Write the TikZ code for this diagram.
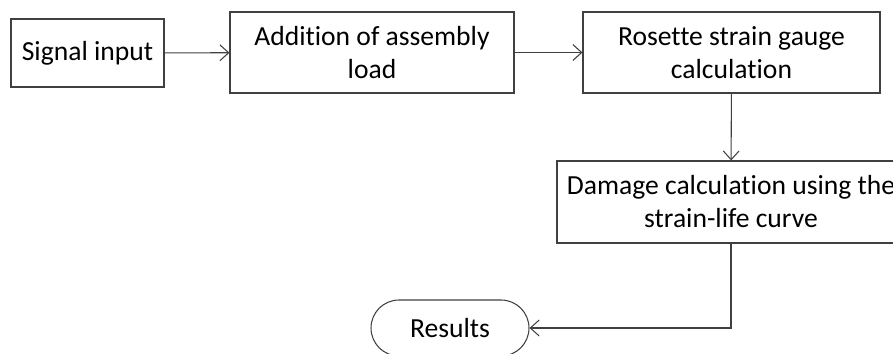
\documentclass[tikz,border=0pt]{standalone}
\usepackage{fontspec}
\setmainfont[Ligatures=NoCommon]{Carlito}
\usetikzlibrary{arrows.meta,positioning,calc,shapes.misc}
\definecolor{ink}{HTML}{000000}
\definecolor{edge}{HTML}{404040}
\begin{document}
\begin{tikzpicture}[font=\fontsize{15.7}{18.8}\selectfont,
  box/.style={draw=edge,line width=0.6pt,align=center,text=ink,
              inner sep=0pt},
  flow/.style={-{Straight Barb[length=5pt,width=9pt]},edge,line width=0.6pt}]
  \clip (0,0) rectangle (17.86,-7.08);
  \node[box,minimum width=3.06cm,minimum height=1.36cm] (sig) at (1.75,-1.06)
       {Signal input};
  \node[box,minimum width=5.68cm,minimum height=1.62cm] (add) at (7.44,-1.05)
       {Addition of assembly\\load};
  \node[box,minimum width=5.94cm,minimum height=1.62cm] (ros) at (14.63,-1.05)
       {Rosette strain gauge\\calculation};
  \node[box,minimum width=6.96cm,minimum height=1.64cm] (dmg) at (14.62,-4.04)
       {Damage calculation using the\\strain-life curve};
  \node[box,rounded rectangle,minimum width=3.16cm,minimum height=1.12cm]
       (res) at (9.0,-6.56) {Results};
  \draw[flow] (sig) -- (add);
  \draw[flow] (add) -- (ros);
  \draw[flow] (ros) -- (dmg);
  \draw[flow] (dmg.south) |- (res.east);
\end{tikzpicture}
\end{document}
